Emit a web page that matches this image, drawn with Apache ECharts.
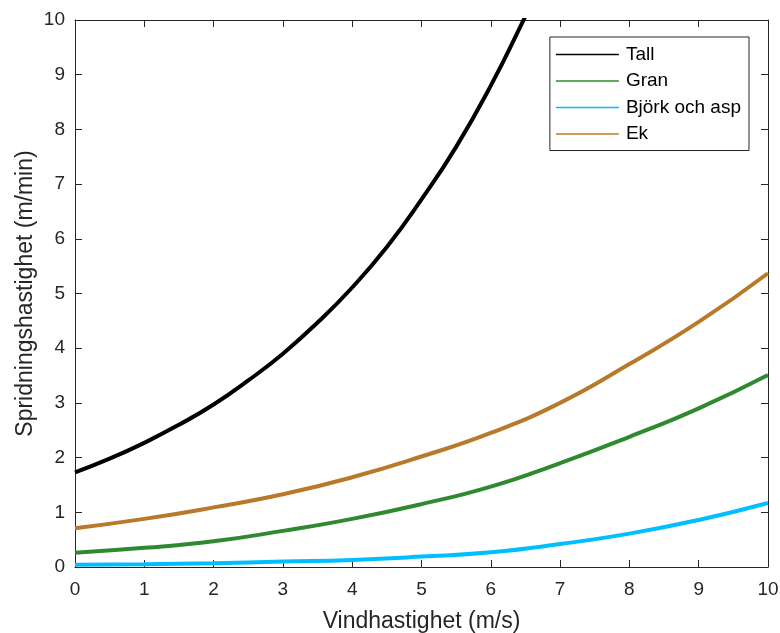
<!DOCTYPE html>
<html>
<head>
<meta charset="utf-8">
<script src="https://cdn.jsdelivr.net/npm/echarts@6/dist/echarts.min.js"></script>
<style>html,body{margin:0;padding:0;background:#fff}#c{width:780px;height:633px}</style>
</head>
<body>
<div id="c"></div>
<script>
const xTall = [0, 0.5, 1, 1.5, 2, 2.5, 3, 3.5, 4, 4.5, 5, 5.5, 6, 6.5, 6.7];
const tall  = [1.73, 1.98, 2.27, 2.6, 2.97, 3.41, 3.9, 4.47, 5.11, 5.85, 6.72, 7.68, 8.8, 10.07, 10.6];
const xAll  = [0, 1, 2, 3, 4, 5, 6, 7, 8, 9, 10];
const gran  = [0.26, 0.35, 0.47, 0.66, 0.88, 1.15, 1.47, 1.9, 2.38, 2.9, 3.51];
const bjork = [0.04, 0.05, 0.07, 0.1, 0.13, 0.19, 0.27, 0.42, 0.61, 0.86, 1.17];
const ek    = [0.71, 0.88, 1.09, 1.33, 1.64, 2.02, 2.45, 3.0, 3.71, 4.48, 5.37];
const seriesNames = ['Tall', 'Gran', 'Björk och asp', 'Ek'];
const colors = ['#000000', '#2f8a2f', '#00bfff', '#b8792a'];

const pairs = (xs, ys) => xs.map((x, i) => [x, ys[i]]);
const font = 'Liberation Sans, Arial, Helvetica, sans-serif';
const axisCol = '#262626';

const chart = echarts.init(document.getElementById('c'));
const mkX = (show, pos) => ({
  type: 'value', min: 0, max: 10, interval: 1, position: pos,
  axisLine: { show: true, onZero: false, lineStyle: { color: axisCol, width: 1 } },
  axisTick: { show: true, inside: true, length: 7, lineStyle: { color: axisCol } },
  axisLabel: { show: show, color: axisCol, fontSize: 19, fontFamily: font, margin: 13 },
  splitLine: { show: false }
});
const mkY = (show, pos) => ({
  type: 'value', min: 0, max: 10, interval: 1, position: pos,
  axisLine: { show: true, onZero: false, lineStyle: { color: axisCol, width: 1 } },
  axisTick: { show: true, inside: true, length: 7, lineStyle: { color: axisCol } },
  axisLabel: { show: show, color: axisCol, fontSize: 19, fontFamily: font, margin: 10 },
  splitLine: { show: false }
});
const xb = mkX(true, 'bottom');
xb.name = 'Vindhastighet (m/s)';
xb.nameLocation = 'middle';
xb.nameGap = 43;
xb.nameMoveOverlap = false;
xb.nameTextStyle = { color: axisCol, fontSize: 23, fontFamily: font };
const yl = mkY(true, 'left');
yl.name = 'Spridningshastighet (m/min)';
yl.nameLocation = 'middle';
yl.nameGap = 38;
yl.nameMoveOverlap = false;
yl.nameTextStyle = { color: axisCol, fontSize: 23, fontFamily: font };

const data = [pairs(xTall, tall), pairs(xAll, gran), pairs(xAll, bjork), pairs(xAll, ek)];

chart.setOption({
  animation: false,
  grid: { left: 75, right: 12, top: 20, bottom: 66, outerBoundsMode: 'none', containLabel: false },
  xAxis: [xb, mkX(false, 'top')],
  yAxis: [yl, mkY(false, 'right')],
  legend: {
    right: 31, top: 37, orient: 'vertical',
    data: seriesNames,
    icon: 'rect',
    backgroundColor: '#fff', borderColor: axisCol, borderWidth: 1,
    padding: [8, 8, 7, 6], itemGap: 7.5, itemWidth: 63, itemHeight: 1.5,
    textStyle: { color: '#000', fontSize: 19, fontFamily: font, lineHeight: 19, padding: [0, 0, 0, 2] }
  },
  series: seriesNames.map((n, i) => ({
    name: n, type: 'line', data: data[i], smooth: 0.5, symbol: 'none', clip: true,
    lineStyle: { color: colors[i], width: 4 }, itemStyle: { color: colors[i] }, z: 5 - i
  }))
});
</script>
</body>
</html>
